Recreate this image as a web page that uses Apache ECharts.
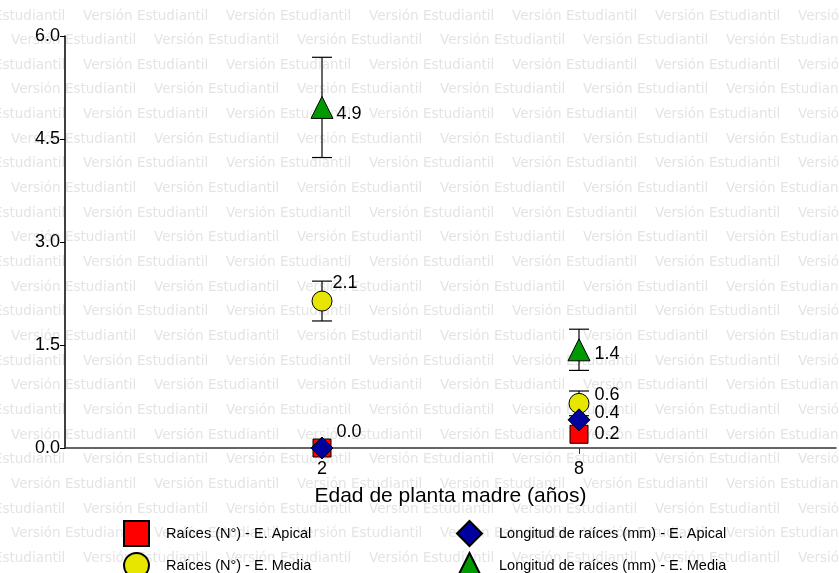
<!DOCTYPE html>
<html>
<head>
<meta charset="utf-8">
<script src="https://cdn.jsdelivr.net/npm/echarts@6/dist/echarts.min.js"></script>
<style>
  html, body { margin: 0; padding: 0; background: #fff; }
  #chart { width: 839px; height: 573px; }
</style>
</head>
<body>
<div id="chart"></div>
<script>
// datos
var xCats = ['', '2', '8', ''];          // los vacios solo abren espacio a los lados
var edades = ['2', '8'];
var raicesApical = [0.0, 0.2];
var longApical = [0.0, 0.41];
var raicesMedia = [2.14, 0.65];
var raicesMediaErr = [0.29, 0.18];
var longMedia = [4.96, 1.43];
var longMediaErr = [0.73, 0.30];
var yTicks = [0, 1.5, 3, 4.5, 6];

var FONT = 'Liberation Sans, Arial, sans-serif';

// marca de agua "Versión Estudiantil"
function watermark() {
  var els = [];
  for (var r = 0; r < 24; r++) {
    var y = 17 + r * 24.65;
    var x0 = (r % 2 === 0) ? -60 : 11;
    for (var x = x0; x < 839; x += 143) {
      els.push({
        type: 'text', left: x, top: y - 8, z: -10, silent: true,
        style: { text: 'Versión Estudiantil', fill: '#e4e4e4', font: '13.5px DejaVu Sans' }
      });
    }
  }
  return els;
}

function labelFmt(p) {
  return (Math.floor(p.value[1] * 10 + 1e-9) / 10).toFixed(1);
}

// offsets de las etiquetas, null = sin etiqueta
function pointSeries(name, values, symbol, size, color, offsets) {
  return {
    type: 'scatter', name: name, symbol: symbol, symbolSize: size,
    itemStyle: { color: color, borderColor: '#000', borderWidth: 1, opacity: 1 },
    label: { show: true, position: 'right', distance: 3, color: '#000', fontSize: 18, fontFamily: FONT, formatter: labelFmt },
    data: edades.map(function (e, i) {
      return {
        value: [e, values[i]],
        label: { show: offsets[i] != null, offset: offsets[i] || [0, 0] }
      };
    })
  };
}

function errSeries(means, errs) {
  return {
    type: 'custom', silent: true, z: 1,
    renderItem: function (params, api) {
      var x = api.value(0);
      var lo = api.coord([x, api.value(1)]);
      var hi = api.coord([x, api.value(2)]);
      var w = 10;
      var st = { stroke: '#000', lineWidth: 1.2 };
      return {
        type: 'group',
        children: [
          { type: 'line', shape: { x1: lo[0], y1: lo[1], x2: hi[0], y2: hi[1] }, style: st },
          { type: 'line', shape: { x1: lo[0] - w, y1: lo[1], x2: lo[0] + w, y2: lo[1] }, style: st },
          { type: 'line', shape: { x1: hi[0] - w, y1: hi[1], x2: hi[0] + w, y2: hi[1] }, style: st }
        ]
      };
    },
    data: edades.map(function (e, i) {
      return [e, means[i] - errs[i], means[i] + errs[i]];
    })
  };
}

var legendText = { color: '#000', fontSize: 14.5, fontFamily: FONT, padding: [0, 0, 0, 12] };

var option = {
  animation: false,
  backgroundColor: '#fff',
  graphic: watermark(),
  grid: { left: 65, right: 1, top: 36, bottom: 125 },
  legend: [
    {
      orient: 'vertical', left: 123, top: 520, width: 300, height: 60, padding: 0,
      itemWidth: 25, itemHeight: 25, itemGap: 5,
      textStyle: legendText,
      data: ['Raíces (N°) - E. Apical', 'Raíces (N°) - E. Media']
    },
    {
      orient: 'vertical', left: 456, top: 520, width: 380, height: 60, padding: 0,
      itemWidth: 25, itemHeight: 25, itemGap: 5,
      textStyle: legendText,
      data: ['Longitud de raíces (mm) - E. Apical', 'Longitud de raíces (mm) - E. Media']
    }
  ],
  xAxis: {
    type: 'category', data: xCats, boundaryGap: false,
    name: 'Edad de planta madre (años)', nameLocation: 'middle', nameGap: 38,
    nameTextStyle: { color: '#000', fontSize: 21, fontFamily: FONT },
    axisLine: { lineStyle: { color: '#333', width: 1.5 } },
    axisTick: { length: 6, lineStyle: { color: '#333' }, interval: function (i) { return i === 1 || i === 2; } },
    axisLabel: { color: '#000', fontSize: 18, fontFamily: FONT, margin: 12, interval: 0 },
    splitLine: { show: false }
  },
  yAxis: {
    type: 'value', min: yTicks[0], max: yTicks[yTicks.length - 1], interval: 1.5,
    axisLine: { show: true, lineStyle: { color: '#000', width: 1.5 } },
    axisTick: { show: true, length: 5, lineStyle: { color: '#000' } },
    axisLabel: { color: '#000', fontSize: 18, fontFamily: FONT, margin: 5, formatter: function (v) { return v.toFixed(1); } },
    splitLine: { show: false }
  },
  series: [
    errSeries(raicesMedia, raicesMediaErr),
    errSeries(longMedia, longMediaErr),
    pointSeries('Raíces (N°) - E. Apical', raicesApical, 'rect', 18, '#ff0000', [null, [3, 0]]),
    pointSeries('Raíces (N°) - E. Media', raicesMedia, 'circle', 20, '#e6e600', [[-3, -18], [2, -8]]),
    pointSeries('Longitud de raíces (mm) - E. Apical', longApical, 'diamond', 22, '#00009c', [[0, -16], [1, -7]]),
    pointSeries('Longitud de raíces (mm) - E. Media', longMedia, 'triangle', 22, '#009900', [[0, 7], [1, 4]])
  ]
};

var myChart = echarts.init(document.getElementById('chart'));
myChart.setOption(option);
</script>
</body>
</html>
